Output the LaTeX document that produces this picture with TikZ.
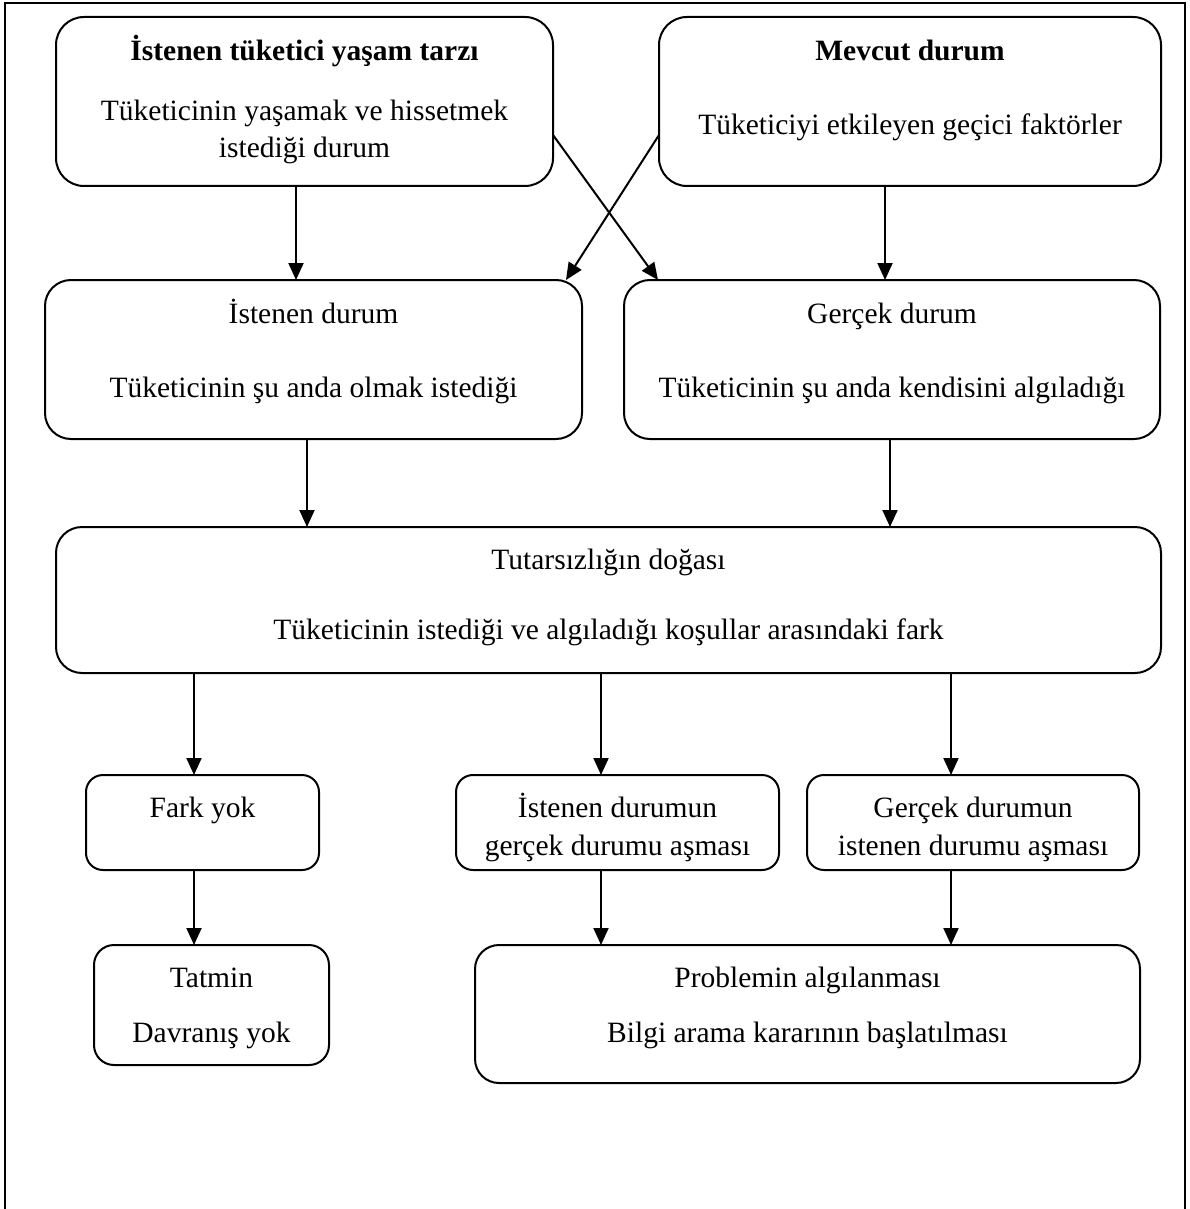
\documentclass[tikz,border=0pt]{standalone}
\usepackage{fontspec}
\setmainfont{Liberation Serif}
\usetikzlibrary{arrows.meta}

% rounded box from its corners: name, x1, y1, x2, y2, corner radius
\newcommand\rbox[6]{%
  \node[rbox, rounded corners=#6pt, minimum width={#4-#2}, minimum height={#5-#3}]
    (#1) at ({(#2+#4)/2},{(#3+#5)/2}) {};}

\begin{document}
\begin{tikzpicture}[x=1pt,y=-1pt,
  rbox/.style={draw, line width=2pt, inner sep=0pt, outer sep=0pt},
  txt/.style={anchor=base, inner sep=0pt, font=\fontsize{29.5}{35}\selectfont},
  arr/.style={line width=2pt, -{Triangle[width=15pt,length=17pt]}},
  frame/.style={line width=1.5pt}]

\useasboundingbox (0,0) rectangle (1190,1209);

% outer frame, open at the bottom
\draw[frame] (5,1209) -- (5,3) -- (1185,3) -- (1185,1209);

% boxes
\rbox{A}{56}{17}{553}{186}{28}
\rbox{B}{659}{17}{1161}{186}{28}
\rbox{C}{45}{280}{582}{439}{26}
\rbox{D}{624}{280}{1160}{439}{26}
\rbox{E}{56}{527}{1161}{673}{26}
\rbox{F}{86}{775}{319}{870}{17}
\rbox{G}{456}{775}{779}{870}{17}
\rbox{H}{807}{775}{1139}{870}{17}
\rbox{I}{94}{945}{329}{1065}{20}
\rbox{J}{475}{945}{1140}{1083}{24}

% texts
\node[txt] (a1) at (304.5,61) {\bfseries İstenen tüketici yaşam tarzı};
\node[txt] (a2) at (304.5,121) {Tüketicinin yaşamak ve hissetmek};
\node[txt] (a3) at (304.5,158) {istediği durum};

\node[txt] (b1) at (910,61) {\bfseries Mevcut durum};
\node[txt] (b2) at (910,135) {Tüketiciyi etkileyen geçici faktörler};

\node[txt] (c1) at (313.5,323) {İstenen durum};
\node[txt] (c2) at (313.5,397) {Tüketicinin şu anda olmak istediği};

\node[txt] (d1) at (892,323) {Gerçek durum};
\node[txt] (d2) at (892,397) {Tüketicinin şu anda kendisini algıladığı};

\node[txt] (e1) at (608.5,569) {Tutarsızlığın doğası};
\node[txt] (e2) at (608.5,639) {Tüketicinin istediği ve algıladığı koşullar arasındaki fark};

\node[txt] (f1) at (202.5,817) {Fark yok};

\node[txt] (g1) at (617.5,817) {İstenen durumun};
\node[txt] (g2) at (617.5,855) {gerçek durumu aşması};

\node[txt] (h1) at (973,817) {Gerçek durumun};
\node[txt] (h2) at (973,855) {istenen durumu aşması};

\node[txt] (i1) at (211.5,987) {Tatmin};
\node[txt] (i2) at (211.5,1042) {Davranış yok};

\node[txt] (j1) at (807.5,987) {Problemin algılanması};
\node[txt] (j2) at (807.5,1042) {Bilgi arama kararının başlatılması};

% columns of the vertical connectors
\coordinate (k1) at (296,0);
\coordinate (k2) at (885,0);
\coordinate (k3) at (307,0);
\coordinate (k4) at (890,0);
\coordinate (k5) at (194,0);
\coordinate (k6) at (601,0);
\coordinate (k7) at (951,0);

% connectors
\draw[arr] (A.south -| k1) -- (C.north -| k1);
\draw[arr] (B.south -| k2) -- (D.north -| k2);
\draw[arr] ([yshift=-33.5pt]A.east) -- ([xshift=-234pt]D.north);
\draw[arr] ([yshift=-33.5pt]B.west) -- ([xshift=252.5pt]C.north);
\draw[arr] (C.south -| k3) -- (E.north -| k3);
\draw[arr] (D.south -| k4) -- (E.north -| k4);
\draw[arr] (E.south -| k5) -- (F.north -| k5);
\draw[arr] (E.south -| k6) -- (G.north -| k6);
\draw[arr] (E.south -| k7) -- (H.north -| k7);
\draw[arr] (F.south -| k5) -- (I.north -| k5);
\draw[arr] (G.south -| k6) -- (J.north -| k6);
\draw[arr] (H.south -| k7) -- (J.north -| k7);

\end{tikzpicture}
\end{document}
